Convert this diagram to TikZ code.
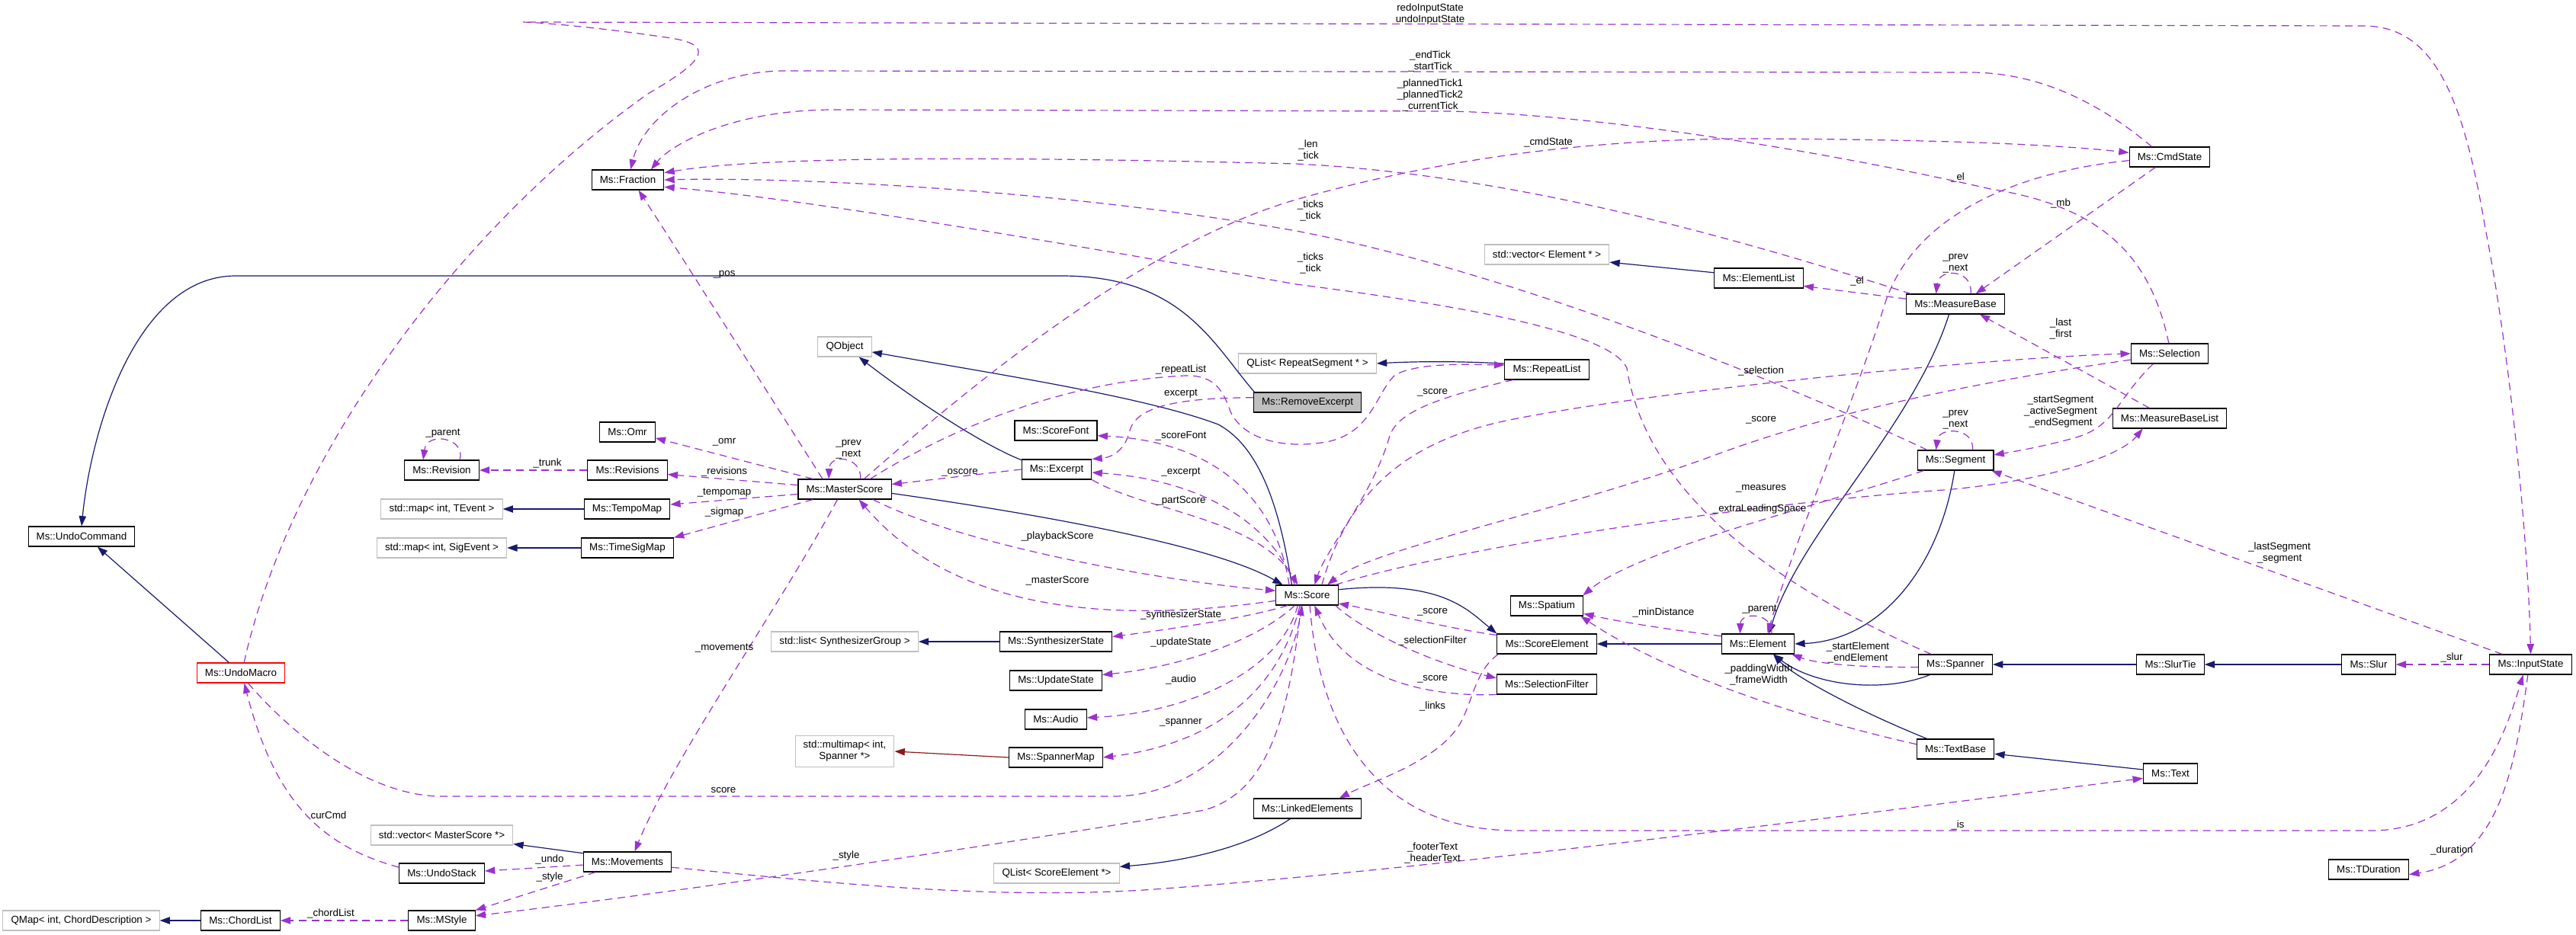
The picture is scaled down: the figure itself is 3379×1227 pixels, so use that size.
\documentclass[tikz,border=0pt]{standalone}
\usepackage{fontspec}
\setmainfont{Liberation Sans}
\usepackage{xcolor}
\definecolor{navyc}{HTML}{191970}
\definecolor{orchidc}{HTML}{9A32CD}
\definecolor{firec}{HTML}{8B1A1A}
\definecolor{extc}{HTML}{BFBFBF}
\usepackage{tikz}
\usetikzlibrary{arrows.meta}

\begin{document}
\begin{tikzpicture}[x=0.75pt,y=-0.75pt,every node/.style={font=\fontsize{10}{11.25}\selectfont}]
\tikzstyle{box}=[draw=black,line width=0.8pt,fill=white,minimum height=19.5pt,inner xsep=8pt,inner ysep=2pt]
\tikzstyle{extbox}=[box,draw=extc]
\tikzstyle{focusbox}=[box,fill=extc]
\tikzstyle{cutbox}=[box,draw=red]
\tikzstyle{elabel}=[inner sep=0pt,align=center]
\tikzstyle{inherit}=[-{Triangle[length=10pt,width=7pt]},navyc,line width=0.9pt]
\tikzstyle{uses}=[-{Triangle[length=10pt,width=7pt]},orchidc,line width=0.9pt,dash pattern=on 7.5pt off 5pt]
\tikzstyle{tmpl}=[-{Triangle[length=10pt,width=7pt]},firec,line width=0.9pt]
\useasboundingbox (0,0) rectangle (3379,1227);
\node[box] (fraction) at (823.5,236) {Ms::Fraction};
\node[extbox] (vecelem) at (2029,334) {std::vector< Element * >};
\node[box] (elemlist) at (2307,365) {Ms::ElementList};
\node[box] (measbase) at (2565,399) {Ms::MeasureBase};
\node[box] (cmdstate) at (2846,206) {Ms::CmdState};
\node[box] (undocmd) at (107,704) {Ms::UndoCommand};
\node[box] (omr) at (823,567) {Ms::Omr};
\node[box] (revision) at (579.5,617) {Ms::Revision};
\node[box] (revisions) at (823,617) {Ms::Revisions};
\node[extbox] (mapt) at (579.5,668) {std::map< int, TEvent >};
\node[box] (tempomap) at (822.5,668) {Ms::TempoMap};
\node[extbox] (maps) at (579.5,719) {std::map< int, SigEvent >};
\node[box] (timesig) at (823,719) {Ms::TimeSigMap};
\node[extbox] (qobject) at (1108,455) {QObject};
\node[box] (master) at (1108,642) {Ms::MasterScore};
\node[box] (scorefont) at (1385,565) {Ms::ScoreFont};
\node[box] (excerpt) at (1386,616) {Ms::Excerpt};
\node[focusbox] (remove) at (1715,528) {Ms::RemoveExcerpt};
\node[extbox] (qlistrep) at (1715,477) {QList< RepeatSegment * >};
\node[box] (score) at (1714.5,781) {Ms::Score};
\node[box] (repeatlist) at (2029,485) {Ms::RepeatList};
\node[box] (spatium) at (2029,795) {Ms::Spatium};
\node[box] (segment) at (2565,604) {Ms::Segment};
\node[box] (selection) at (2846,464) {Ms::Selection};
\node[box] (mblist) at (2846,549) {Ms::MeasureBaseList};
\node[cutbox] (undomacro) at (316,883) {Ms::UndoMacro};
\node[extbox] (vecms) at (579.5,1096) {std::vector< MasterScore *>};
\node[box] (undostack) at (579.5,1146) {Ms::UndoStack};
\node[box] (movements) at (823,1131) {Ms::Movements};
\node[extbox] (qmap) at (106.5,1208) {QMap< int, ChordDescription >};
\node[box] (chordlist) at (315.5,1208) {Ms::ChordList};
\node[box] (mstyle) at (579.5,1208) {Ms::MStyle};
\node[extbox] (listsynth) at (1108,842) {std::list< SynthesizerGroup >};
\node[box] (synthstate) at (1385,842) {Ms::SynthesizerState};
\node[box] (updatestate) at (1385,893) {Ms::UpdateState};
\node[box] (audio) at (1385,944) {Ms::Audio};
\node[extbox,align=center,minimum height=30.75pt] (multimap) at (1108,986) {std::multimap< int,\\ Spanner *>};
\node[box] (spannermap) at (1385,994) {Ms::SpannerMap};
\node[box] (linked) at (1715,1061) {Ms::LinkedElements};
\node[extbox] (qlistse) at (1386,1146) {QList< ScoreElement *>};
\node[box] (scoreel) at (2029,845) {Ms::ScoreElement};
\node[box] (selfilter) at (2029,898) {Ms::SelectionFilter};
\node[box] (element) at (2306,845) {Ms::Element};
\node[box] (spanner) at (2565,872) {Ms::Spanner};
\node[box] (textbase) at (2565,983) {Ms::TextBase};
\node[box] (slurtie) at (2847,872) {Ms::SlurTie};
\node[box] (slur) at (3107,872) {Ms::Slur};
\node[box] (inputstate) at (3319.5,872) {Ms::InputState};
\node[box] (txt) at (2847,1015) {Ms::Text};
\node[box] (tduration) at (3107,1141) {Ms::TDuration};
\draw[inherit] (remove.169) .. controls (1590,450) and (1550,362) .. (1392,362) -- (309,362) .. controls (180,362) and (120,560) .. (undocmd.north);
\draw[inherit] (undomacro.139) -- (undocmd.327);
\draw[inherit] (excerpt.165) .. controls (1280,580) and (1180,510) .. (qobject.324);
\draw[inherit] (score.146) .. controls (1678,660) and (1650,585) .. (1598,557) .. controls (1500,520) and (1300,490) .. (qobject.-11);
\draw[inherit] (master.-5) .. controls (1400,680) and (1600,720) .. (score.157);
\draw[inherit] (tempomap.west) -- (mapt.east);
\draw[inherit] (timesig.west) -- (maps.east);
\draw[inherit] (repeatlist.172) .. controls (1920,474) and (1860,474) .. (qlistrep.east);
\draw[inherit] (elemlist.173) -- (vecelem.-7);
\draw[inherit] (measbase.238) .. controls (2510,560) and (2360,700) .. (element.43);
\draw[inherit] (segment.265) .. controls (2545,740) and (2470,840) .. (element.east);
\draw[inherit] (spanner.202) .. controls (2470,910) and (2380,900) .. (element.-34);
\draw[inherit] (textbase.160) .. controls (2430,930) and (2350,885) .. (element.-34);
\draw[inherit] (element.west) -- (scoreel.east);
\draw[inherit] (score.10) .. controls (1890,760) and (1925,800) .. (scoreel.north west);
\draw[inherit] (slurtie.west) -- (spanner.east);
\draw[inherit] (slur.west) -- (slurtie.east);
\draw[inherit] (txt.172) -- (textbase.-7);
\draw[inherit] (linked.211) .. controls (1640,1110) and (1560,1130) .. (qlistse.6);
\draw[inherit] (synthstate.west) -- (listsynth.east);
\draw[inherit] (movements.169) -- (vecms.-7);
\draw[inherit] (chordlist.west) -- (qmap.east);
\draw[tmpl] (spannermap.west) -- (multimap.east);
\draw[uses] (master.155) .. controls (1010,520) and (890,330) .. (fraction.-44);
\draw[uses] (cmdstate.150) .. controls (2760,140) and (2680,95) .. (2584,95) -- (1029,93) .. controls (930,93) and (845,150) .. (fraction.75);
\draw[uses] (selection.95) .. controls (2820,330) and (2750,270) .. (2611,248) .. controls (2400,200) and (2100,150) .. (1900,146) -- (1094,144) .. controls (960,144) and (880,190) .. (fraction.24);
\draw[uses] (measbase.167) .. controls (2300,320) and (2000,230) .. (1700,215) .. controls (1300,205) and (1000,205) .. (fraction.11);
\draw[uses] (segment.160) .. controls (2380,520) and (2000,360) .. (1700,303) .. controls (1400,250) and (1050,232) .. (fraction.east);
\draw[uses] (spanner.157) .. controls (2330,770) and (2160,650) .. (2134,483) .. controls (2115,440) and (1950,405) .. (1700,373) .. controls (1400,320) and (1050,260) .. (fraction.-11);
\draw[uses] (master.28) .. controls (1280,500) and (1500,320) .. (1700,262) .. controls (1900,205) and (2100,182) .. (2300,182) .. controls (2550,183) and (2700,190) .. (cmdstate.174);
\draw[uses] (master.22) .. controls (1250,560) and (1400,500) .. (1555,493) .. controls (1595,492) and (1605,515) .. (1614,540) .. controls (1630,575) and (1680,590) .. (1740,580) .. controls (1800,568) and (1805,515) .. (1830,492) .. controls (1860,476) and (1920,478) .. (repeatlist.174);
\draw[uses] (remove.175) .. controls (1540,522) and (1490,535) .. (1482,565) .. controls (1476,590) and (1460,600) .. (excerpt.north east);
\draw[uses] (score.150) .. controls (1675,660) and (1600,580) .. (scorefont.-7);
\draw[uses] (score.140) .. controls (1670,690) and (1580,630) .. (excerpt.-5);
\draw[uses] (excerpt.south east) .. controls (1500,670) and (1650,680) .. (score.132);
\draw[uses] (excerpt.west) -- (master.6);
\draw[uses] (master.-20) .. controls (1250,710) and (1500,760) .. (score.172);
\draw[uses] (score.190) .. controls (1450,820) and (1250,800) .. (master.-36);
\draw[uses] (master.162) -- (omr.-12);
\draw[uses] (master.175) -- (revisions.-6);
\draw[uses] (master.186) -- (tempomap.6);
\draw[uses] (master.198) -- (timesig.north east);
\draw[uses] (revisions.west) -- (revision.east);
\draw[uses] (revision.30) .. controls (612,575) and (560,565) .. (revision.151);
\draw[uses] (master.33) .. controls (1130,598) and (1088,595) .. (master.147);
\draw[uses] (measbase.34) .. controls (2588,352) and (2543,352) .. (measbase.152);
\draw[uses] (segment.31) .. controls (2590,560) and (2543,560) .. (segment.152);
\draw[uses] (element.37) .. controls (2326,803) and (2283,803) .. (element.150);
\draw[uses] (measbase.174) -- (elemlist.-10);
\draw[uses] (cmdstate.185) .. controls (2650,225) and (2510,280) .. (2472,400) .. controls (2435,520) and (2350,720) .. (element.47);
\draw[uses] (cmdstate.216) -- (measbase.27);
\draw[uses] (mblist.153) -- (measbase.-23);
\draw[uses] (score.35) .. controls (1770,640) and (1850,580) .. (1971,553) .. controls (2150,515) and (2600,470) .. (selection.west);
\draw[uses] (selection.189) .. controls (2600,500) and (2400,540) .. (2242,600) .. controls (2050,670) and (1800,720) .. (score.27);
\draw[uses] (score.20) .. controls (1900,720) and (2300,660) .. (2550,643) .. controls (2680,632) and (2780,600) .. (mblist.201);
\draw[uses] (segment.198) .. controls (2400,660) and (2150,720) .. (spatium.16);
\draw[uses] (selection.212) .. controls (2775,525) and (2775,560) .. (2720,575) .. controls (2680,586) and (2640,593) .. (segment.8);
\draw[uses] (inputstate.160) -- (segment.-16);
\draw[uses] (repeatlist.197) .. controls (1870,525) and (1830,545) .. (1822,575) .. controls (1800,650) and (1740,720) .. (score.54);
\draw[uses] (score.-20) .. controls (1790,830) and (1880,870) .. (selfilter.173);
\draw[uses] (selfilter.south west) .. controls (1850,915) and (1760,880) .. (score.-54);
\draw[uses] (scoreel.170) .. controls (1900,825) and (1800,800) .. (score.-15);
\draw[uses] (scoreel.192) .. controls (1935,880) and (1932,920) .. (1915,950) .. controls (1885,1000) and (1800,1025) .. (linked.18);
\draw[uses] (element.168) .. controls (2180,825) and (2120,815) .. (spatium.-12);
\draw[uses] (textbase.173) .. controls (2350,940) and (2180,880) .. (spatium.-17);
\draw[uses] (spanner.184) .. controls (2430,876) and (2380,870) .. (element.-17);
\draw[uses] (score.208) .. controls (1640,810) and (1540,825) .. (synthstate.5);
\draw[uses] (score.220) .. controls (1650,840) and (1550,875) .. (updatestate.7);
\draw[uses] (score.228) .. controls (1680,880) and (1560,935) .. (audio.3);
\draw[uses] (score.235) .. controls (1680,900) and (1600,975) .. (spannermap.east);
\draw[uses] (undomacro.-55) .. controls (380,960) and (480,1045) .. (580,1045) -- (1460,1045) .. controls (1600,1045) and (1690,900) .. (score.245);
\draw[uses] (undostack.172) .. controls (420,1110) and (360,1050) .. (undomacro.-72);
\draw[uses] (movements.184) -- (undostack.3);
\draw[uses] (movements.198) -- (mstyle.north east);
\draw[uses] (score.240) .. controls (1690,950) and (1660,1040) .. (1580,1063) .. controls (1400,1095) and (900,1170) .. (mstyle.8);
\draw[uses] (mstyle.west) -- (chordlist.east);
\draw[uses] (master.235) .. controls (1020,800) and (880,1000) .. (movements.55);
\draw[uses] (movements.-7) .. controls (1100,1160) and (1300,1180) .. (1500,1168) .. controls (1900,1140) and (2500,1060) .. (txt.190);
\draw[uses] (score.-75) .. controls (1730,950) and (1800,1090) .. (1990,1090) -- (3110,1090) .. controls (3250,1090) and (3290,950) .. (inputstate.234);
\draw[uses] (inputstate.west) -- (slur.east);
\draw[uses] (inputstate.255) .. controls (3300,1000) and (3280,1130) .. (tduration.-7);
\draw[uses] (undomacro.73) .. controls (380,600) and (600,300) .. (850,123) .. controls (915,85) and (945,60) .. (880,50) .. controls (800,38) and (720,30) .. (686,29) -- (3100,34) .. controls (3190,34) and (3230,120) .. (3260,300) .. controls (3290,450) and (3316,700) .. (inputstate.north);
\node[elabel] (lredo) at (1876,19) {redoInputState\\undoInputState};
\node[elabel] (lendtick) at (1876,80) {\_endTick\\\_startTick};
\node[elabel] (lplanned) at (1876,125) {\_plannedTick1\\\_plannedTick2\\\_currentTick};
\node[elabel] (llen) at (1716,197) {\_len\\\_tick};
\node[elabel] (lcmd) at (2031,187) {\_cmdState};
\node[elabel] (lticksa) at (1719,276) {\_ticks\\\_tick};
\node[elabel] (lticksb) at (1719,345) {\_ticks\\\_tick};
\node[elabel] (lpos) at (950,360) {\_pos};
\node[elabel] (lelcmd) at (2568,233) {\_el};
\node[elabel] (lmb) at (2703,267) {\_mb};
\node[elabel] (lmbnext) at (2565,346) {\_prev\\\_next};
\node[elabel] (lelml) at (2436,369) {\_el};
\node[elabel] (llast) at (2703,431) {\_last\\\_first};
\node[elabel] (lselection) at (2310,487) {\_selection};
\node[elabel] (lscoresel) at (2310,551) {\_score};
\node[elabel] (lsegnext) at (2565,551) {\_prev\\\_next};
\node[elabel] (lstartseg) at (2703,540) {\_startSegment\\\_activeSegment\\\_endSegment};
\node[elabel] (lmeasures) at (2310,641) {\_measures};
\node[elabel] (lextra) at (2308,668) {\_extraLeadingSpace};
\node[elabel] (llastseg) at (2990,726) {\_lastSegment\\\_segment};
\node[elabel] (lrepeat) at (1549,485) {\_repeatList};
\node[elabel] (lexcerptr) at (1549,517) {excerpt};
\node[elabel] (lscorefont) at (1549,572) {\_scoreFont};
\node[elabel] (lexcerpt) at (1549,620) {\_excerpt};
\node[elabel] (lpart) at (1549,657) {\_partScore};
\node[elabel] (loscore) at (1259,620) {\_oscore};
\node[elabel] (lmprev) at (1113,590) {\_prev\\\_next};
\node[elabel] (lomr) at (950,580) {\_omr};
\node[elabel] (lrevs) at (950,619) {\_revisions};
\node[elabel] (ltempo) at (950,647) {\_tempomap};
\node[elabel] (lsig) at (950,672) {\_sigmap};
\node[elabel] (ltrunk) at (718,608) {\_trunk};
\node[elabel] (lrevparent) at (581,569) {\_parent};
\node[elabel] (lplayback) at (1387,704) {\_playbackScore};
\node[elabel] (lmaster) at (1387,762) {\_masterScore};
\node[elabel] (lscorerep) at (1879,515) {\_score};
\node[elabel] (lelparent) at (2308,800) {\_parent};
\node[elabel] (lmindist) at (2182,804) {\_minDistance};
\node[elabel] (lscoreel) at (1879,803) {\_score};
\node[elabel] (lselfilter) at (1879,841) {\_selectionFilter};
\node[elabel] (lscoresf) at (1879,891) {\_score};
\node[elabel] (llinks) at (1879,927) {\_links};
\node[elabel] (lpadding) at (2307,885) {\_paddingWidth\\\_frameWidth};
\node[elabel] (lstartel) at (2437,856) {\_startElement\\\_endElement};
\node[elabel] (lsynth) at (1549,807) {\_synthesizerState};
\node[elabel] (lupdate) at (1549,843) {\_updateState};
\node[elabel] (laudio) at (1549,892) {\_audio};
\node[elabel] (lspanner) at (1549,948) {\_spanner};
\node[elabel] (lmovements) at (950,851) {\_movements};
\node[elabel] (lscoreum) at (949,1037) {score};
\node[elabel] (lcurcmd) at (431,1070) {curCmd};
\node[elabel] (lundo) at (721,1128) {\_undo};
\node[elabel] (lstylem) at (721,1151) {\_style};
\node[elabel] (lstyles) at (1110,1123) {\_style};
\node[elabel] (lchord) at (434,1199) {\_chordList};
\node[elabel] (lfooter) at (1879,1119) {\_footerText\\\_headerText};
\node[elabel] (lis) at (2568,1083) {\_is};
\node[elabel] (lslur) at (3216,863) {\_slur};
\node[elabel] (lduration) at (3216,1116) {\_duration};
\end{tikzpicture}
\end{document}
